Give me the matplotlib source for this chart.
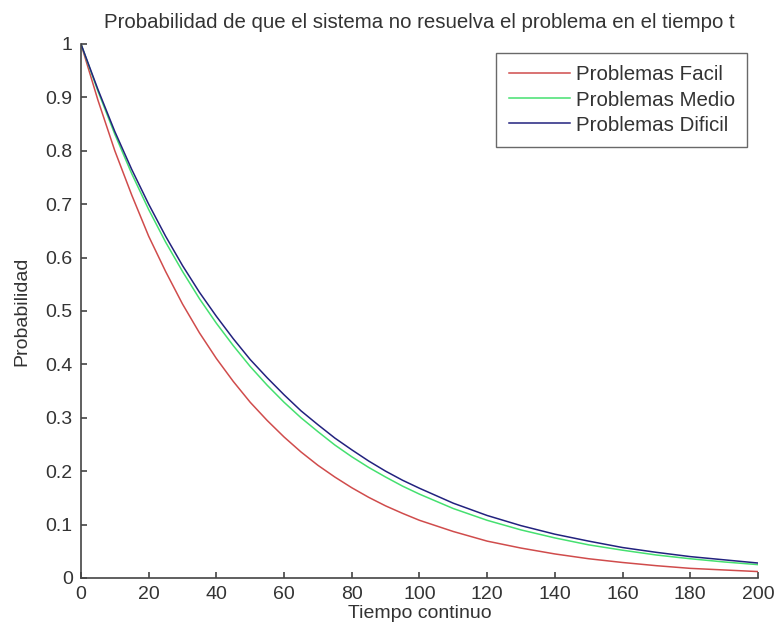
import matplotlib
matplotlib.use("Agg")
import matplotlib.pyplot as plt

plt.rcParams['font.family'] = ['Liberation Sans', 'DejaVu Sans']

# tiempo continuo
tiempo = [0, 5, 10, 15, 20, 25, 30, 35, 40, 45, 50, 55, 60, 65, 70, 75, 80, 85, 90, 95, 100,
          110, 120, 130, 140, 150, 160, 170, 180, 190, 200]

# probabilidad
facil = [1.0, 0.895, 0.80, 0.717, 0.64, 0.574, 0.513, 0.459, 0.411, 0.368, 0.329,
         0.295, 0.264, 0.236, 0.211, 0.189, 0.169, 0.151, 0.135, 0.121, 0.108,
         0.087, 0.069, 0.056, 0.045, 0.036, 0.029, 0.023, 0.018, 0.015, 0.012]
medio = [1.0, 0.912, 0.831, 0.757, 0.690, 0.629, 0.574, 0.523, 0.477, 0.435, 0.396,
         0.361, 0.329, 0.300, 0.274, 0.249, 0.227, 0.207, 0.189, 0.172, 0.157,
         0.130, 0.108, 0.090, 0.075, 0.062, 0.052, 0.043, 0.036, 0.030, 0.025]
dificil = [1.0, 0.915, 0.836, 0.765, 0.700, 0.640, 0.585, 0.535, 0.490, 0.448, 0.409,
           0.375, 0.343, 0.313, 0.287, 0.262, 0.240, 0.219, 0.200, 0.183, 0.168,
           0.140, 0.117, 0.098, 0.082, 0.069, 0.057, 0.048, 0.040, 0.034, 0.028]

etiquetas = ['Problemas Facil', 'Problemas Medio', 'Problemas Dificil']
colores = ['#d04c4c', '#45e070', '#22227e']

fig = plt.figure(figsize=(7.77, 6.35), dpi=100)
ax = fig.add_axes([0.1042, 0.0898, 0.8713, 0.841])

for serie, label, color in zip([facil, medio, dificil], etiquetas, colores):
    ax.plot(tiempo, serie, color=color, linewidth=1.1, label=label)

ax.set_xlim(0, 200)
ax.set_ylim(0, 1)
ax.set_xticks(range(0, 201, 20))
ax.set_yticks([i / 10 for i in range(11)])
ax.set_yticklabels(['0', '0.1', '0.2', '0.3', '0.4', '0.5', '0.6', '0.7', '0.8', '0.9', '1'])

for side in ['top', 'right']:
    ax.spines[side].set_visible(False)
for side in ['left', 'bottom']:
    ax.spines[side].set_color('#444444')
    ax.spines[side].set_linewidth(1.2)

ax.tick_params(direction='in', length=4, width=1.2, color='#444444',
               labelsize=14, labelcolor='#333333', pad=6)

ax.set_xlabel('Tiempo continuo', fontsize=14, color='#333333', labelpad=1)
ax.set_ylabel('Probabilidad', fontsize=14, color='#333333', labelpad=11)
ax.set_title('Probabilidad de que el sistema no resuelva el problema en el tiempo t',
             fontsize=14.7, color='#333333', pad=11.5)

leg = ax.legend(loc='upper right', bbox_to_anchor=(0.9838, 0.983), borderaxespad=0,
                fontsize=14.8, frameon=True, fancybox=False, handlelength=3.0,
                handletextpad=0.25, labelspacing=0.3, borderpad=0.6)
leg.get_frame().set_edgecolor('#444444')
leg.get_frame().set_linewidth(1.0)
for txt in leg.get_texts():
    txt.set_color('#333333')

fig.savefig('out.png', dpi=100)
